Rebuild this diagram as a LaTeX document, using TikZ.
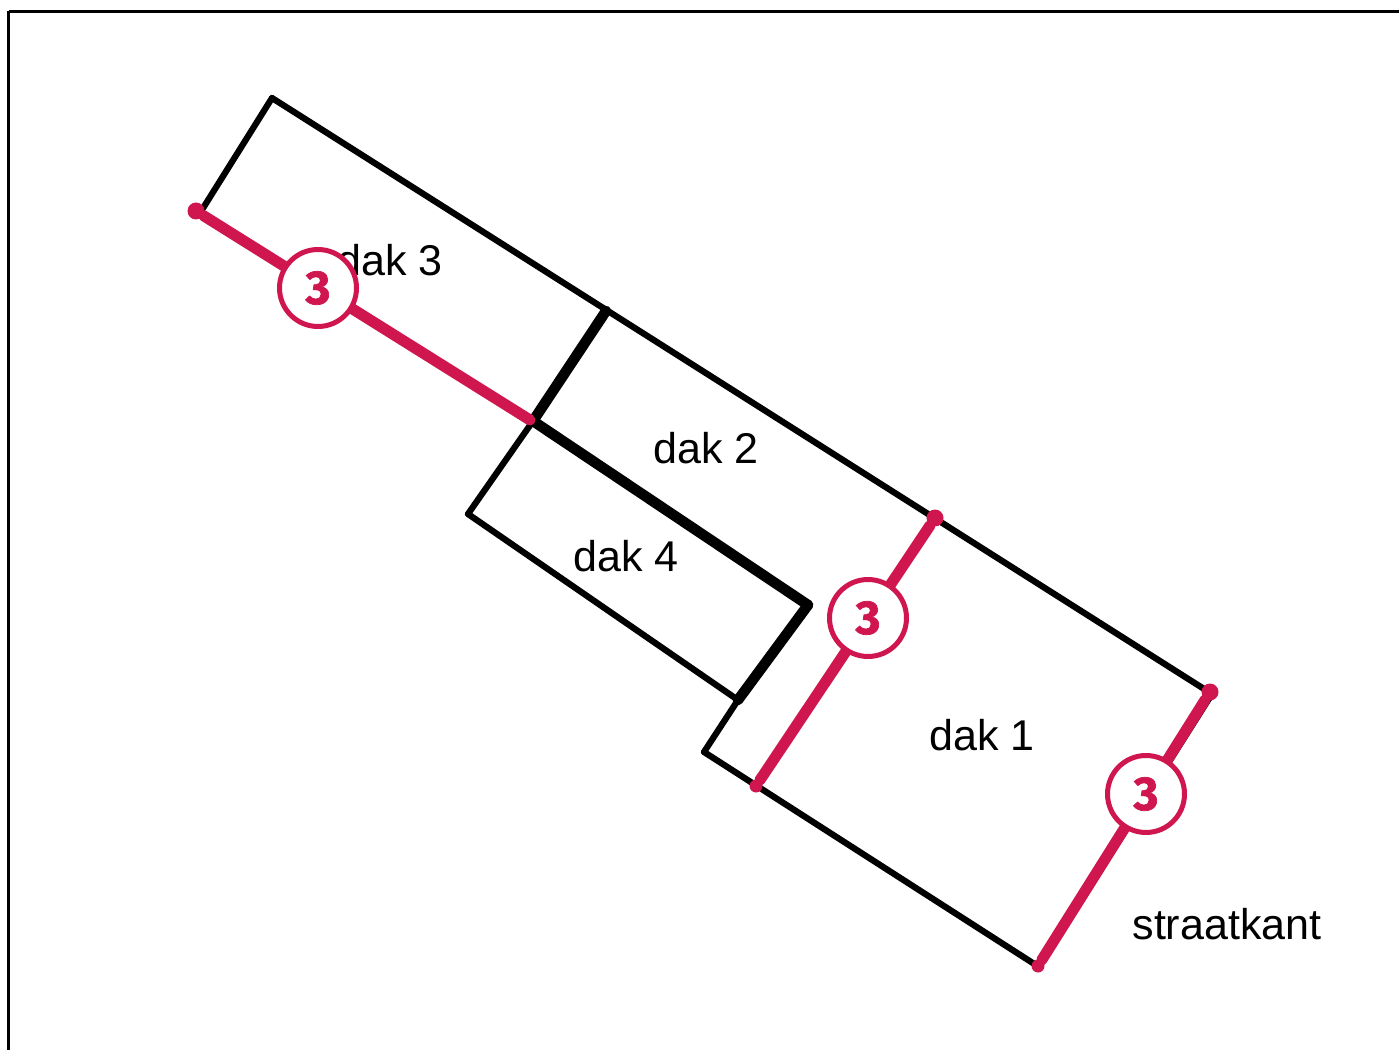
\documentclass[tikz,border=0pt]{standalone}
\usepackage{fontspec}
\setmainfont{Liberation Sans}
\newfontfamily\badgefont[BoldFeatures={FakeBold=1.5}]{Fira Sans}
\definecolor{dakrood}{HTML}{D0164F}
\tikzstyle{vertex}=[shape=coordinate]
\tikzstyle{reddot}=[circle,fill=dakrood,inner sep=0pt,minimum size=0.34cm]
\tikzstyle{daklabel}=[inner sep=0pt,font=\fontsize{24.5}{28}\selectfont]
\tikzstyle{badge}=[circle,draw=dakrood,fill=white,line width=0.1cm,inner sep=0pt,minimum size=1.54cm,text=dakrood,font=\badgefont\bfseries\fontsize{27}{28}\selectfont]
\tikzstyle{frameline}=[line width=0.075cm]
\tikzstyle{roofline}=[line width=0.125cm,line cap=round]
\tikzstyle{ridgeline}=[line width=0.21cm,line cap=round]
\tikzstyle{redline}=[draw=dakrood,line width=0.22cm,line cap=round]
\newcommand{\vertex}{\node[vertex]}
\begin{document}
\begin{tikzpicture}[x=0.02cm,y=-0.02cm]
	\useasboundingbox (0,0) rectangle (1399,1050);
	% % % % % % % % % % % % % % % % % % % % % % % % % % % % %
	\vertex (f1) at (8.5,1050) {};
	\vertex (f2) at (8.5,11.5) {};
	\vertex (f3) at (1399,11.5) {};
	%*********************
	\vertex (o1) at (272,98) {};
	\vertex (o2) at (1212,694) {};
	\vertex (o3) at (1039,967) {};
	\vertex (o4) at (704,752) {};
	\vertex (o5) at (738,700) {};
	\vertex (o6) at (468,514) {};
	\vertex (o7) at (533,421) {};
	\vertex (o8) at (200,213) {};
	%*********************
	\vertex (t1) at (606,311) {};
	\vertex (t2) at (808,605) {};
	% % % % % % % % % % % % % % % % % % % % % % % % % % % % %
	\node[daklabel] (dak3) at (390,260) {dak 3};
	\node[daklabel] (dak2) at (706,448) {dak 2};
	\node[daklabel] (dak4) at (626,556) {dak 4};
	\node[daklabel] (dak1) at (982,735) {dak 1};
	\node[daklabel] (straat) at (1227,924) {straatkant};
	\path
	% % % % % % % % % % % % % % % % %
	(f1) edge [frameline] (f2)
	(f2) edge [frameline] (f3)
	%*************
	(o1) edge [roofline] (o2)
	(o2) edge [roofline] (o3)
	(o3) edge [roofline] (o4)
	(o4) edge [roofline] (o5)
	(o5) edge [roofline] (o6)
	(o6) edge [roofline] (o7)
	(o7) edge [roofline] (o8)
	(o8) edge [roofline] (o1)
	%*************
	(t1) edge [ridgeline] (o7)
	(o7) edge [ridgeline] (t2)
	(t2) edge [ridgeline] (o5)
	;
	%*********************
	\node[reddot] (r1) at (196,211) {};
	\vertex (r2) at (530,420) {};
	\node[reddot] (r3) at (935,518) {};
	\node[reddot,minimum size=0.26cm] (r4) at (756,786) {};
	\node[reddot] (r5) at (1210,692) {};
	\node[reddot,minimum size=0.26cm] (r6) at (1038,966) {};
	\path
	(r1) edge [redline] (r2)
	(r3) edge [redline] (r4)
	(r5) edge [redline] (r6)
	;
	%*********************
	\node[badge] (b1) at (318,288) {3};
	\node[badge] (b2) at (868,618) {3};
	\node[badge] (b3) at (1146,794) {3};
\end{tikzpicture}
\end{document}
